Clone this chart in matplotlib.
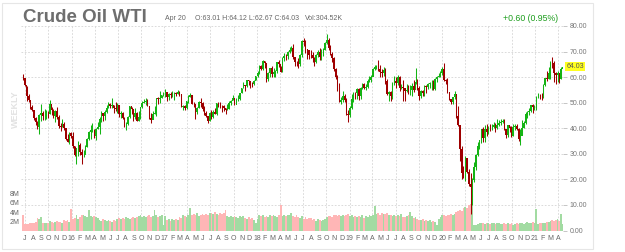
import numpy as np
import pandas as pd
import matplotlib
matplotlib.use('Agg')
import matplotlib.pyplot as plt
import matplotlib.dates as mdates
import matplotlib.transforms as mtransforms
from matplotlib.patches import Rectangle

plt.rcParams['font.family'] = ['Liberation Sans', 'DejaVu Sans']

#-------------------------------------------------------------------
# weekly WTI candles, first week starts Monday 2015-06-22
first_week = '2015-06-22'
first_open = 60.40
last_open = 63.01

closes = [
    59.63, 56.93, 52.74, 50.89, 48.14, 47.12, 43.87, 42.50, 40.45, 45.22, 46.05, 44.63, 44.68, 45.70,
    45.54, 49.63, 47.26, 44.60, 46.59, 44.29, 40.74, 40.39, 41.71, 39.97, 35.62, 34.73, 38.10, 37.04,
    # 2016
    33.16, 29.42, 32.19, 33.62, 30.89, 29.44, 29.64, 32.78, 35.92, 38.50, 39.44, 39.46, 36.79,
    39.72, 40.36, 43.73, 45.92, 44.66, 46.21, 47.75, 49.33, 48.62, 49.07, 47.98, 47.64, 48.99,
    45.41, 45.95, 44.19, 41.60, 41.80, 44.49, 48.52, 47.64, 44.44, 45.88, 43.03, 44.48, 48.24,
    49.81, 50.35, 50.85, 48.70, 44.07, 43.41, 45.69, 46.06, 51.68, 51.50, 51.90, 53.02, 53.72,
    # 2017
    53.99, 52.37, 53.22, 53.17, 53.83, 53.86, 53.40, 53.99, 53.33, 48.49, 48.78, 47.97, 50.60,
    52.24, 53.18, 49.62, 49.33, 46.22, 47.84, 50.33, 49.80, 47.66, 45.83, 44.74, 43.01, 46.04,
    44.23, 46.54, 45.77, 49.71, 49.58, 48.82, 48.51, 47.87, 47.29, 47.48, 49.89, 50.66, 51.67,
    49.29, 51.45, 51.47, 53.90, 55.64, 56.74, 56.55, 58.95, 58.36, 57.36, 57.30, 58.47, 60.42,
    # 2018
    61.44, 64.30, 63.37, 66.14, 65.45, 59.20, 61.68, 63.55, 61.25, 62.04, 62.34, 65.88, 64.94,
    62.06, 67.39, 68.38, 68.10, 69.72, 70.70, 71.28, 67.88, 65.81, 65.74, 65.06, 68.58, 74.15,
    73.80, 71.01, 70.46, 68.69, 68.49, 67.63, 65.91, 68.72, 69.80, 67.75, 68.99, 70.78, 73.25,
    74.34, 71.34, 69.12, 67.59, 63.14, 60.19, 56.46, 50.42, 50.93, 52.61, 51.20, 45.59, 45.33, 47.96,
    # 2019
    51.59, 53.80, 53.69, 55.26, 52.72, 55.59, 57.26, 55.80, 56.07, 58.52, 59.04, 60.14, 63.08,
    63.89, 64.00, 63.30, 61.94, 61.66, 62.76, 58.63, 53.50, 54.00, 52.51, 57.43, 58.47, 57.51,
    60.21, 55.63, 56.20, 55.66, 54.50, 54.87, 54.17, 55.10, 56.52, 54.85, 58.09, 55.91, 52.81,
    54.70, 53.78, 56.66, 56.20, 57.24, 57.72, 57.77, 55.17, 59.20, 60.07, 60.44, 61.72, 63.05,
    # 2020
    59.04, 58.54, 54.19, 51.56, 50.32, 52.05, 53.38, 44.76, 41.28, 31.73, 22.43, 21.51, 28.34,
    22.76, 18.27, 16.94, 19.78, 24.74, 29.43, 33.25, 35.49, 39.55, 36.26, 39.75, 38.49, 40.65,
    40.55, 40.59, 41.29, 40.27, 41.22, 42.01, 42.34, 42.97, 39.77, 37.33, 41.11, 40.25, 37.05,
    40.60, 40.88, 39.85, 35.79, 37.14, 40.13, 42.15, 45.53, 46.26, 46.57, 49.10, 48.23, 48.52,
    # 2021
    52.24, 52.36, 52.27, 52.20, 56.85, 59.47, 59.24, 61.50, 66.09, 65.61, 61.42, 60.97, 61.45,
    59.32, 63.13, 64.03,
]

highs = [
    61.33, 59.73, 56.64, 53.59, 51.18, 49.00, 46.80, 44.39, 43.00, 45.50, 49.32, 46.60, 47.70, 47.00,
    46.74, 50.92, 48.50, 47.39, 47.33, 48.36, 45.15, 42.05, 43.46, 42.60, 40.10, 37.93, 38.37, 38.39,
    38.39, 33.20, 32.35, 34.82, 34.40, 31.75, 31.53, 33.30, 36.16, 38.77, 41.20, 41.90, 39.65,
    39.98, 42.41, 44.49, 46.78, 46.00, 47.16, 48.95, 50.21, 50.07, 51.67, 49.00, 50.45, 49.99,
    49.18, 46.93, 46.40, 44.36, 42.46, 44.98, 48.75, 48.47, 47.72, 47.79, 46.40, 46.58, 48.30,
    50.74, 51.60, 51.93, 51.31, 48.85, 45.95, 46.60, 48.80, 51.82, 52.42, 54.51, 53.20, 54.37,
    55.24, 54.30, 53.65, 54.10, 54.48, 54.11, 54.05, 54.94, 54.57, 53.47, 49.15, 49.04, 50.85,
    52.94, 53.76, 53.10, 50.20, 49.33, 48.26, 50.60, 52.00, 50.26, 48.75, 46.90, 44.92, 46.32,
    47.32, 46.98, 47.85, 49.81, 50.43, 50.22, 49.10, 48.92, 48.06, 49.42, 50.48, 50.86, 52.86,
    51.60, 51.65, 52.86, 53.97, 55.72, 57.92, 57.10, 59.05, 58.99, 58.53, 58.09, 58.68, 60.51,
    62.21, 64.77, 64.89, 66.66, 66.36, 65.69, 61.88, 63.73, 64.24, 63.46, 62.63, 66.04, 66.66,
    64.46, 67.74, 69.56, 69.06, 70.10, 71.89, 72.30, 72.83, 67.80, 66.44, 67.45, 69.17, 74.46,
    75.27, 74.70, 71.18, 70.13, 70.43, 69.88, 67.68, 69.16, 70.65, 71.40, 71.19, 71.52, 73.76,
    76.90, 75.36, 72.59, 69.77, 68.04, 63.65, 60.79, 57.76, 52.20, 54.55, 53.27, 51.99, 47.28, 48.67,
    53.31, 54.04, 54.25, 55.75, 55.75, 55.95, 57.81, 57.88, 57.49, 59.23, 60.39, 60.73, 63.42,
    64.79, 64.63, 66.60, 64.77, 63.14, 63.93, 63.48, 59.33, 54.46, 54.54, 58.17, 60.28, 60.00,
    60.94, 60.60, 57.34, 58.82, 55.91, 57.47, 56.81, 56.90, 57.57, 58.76, 63.38, 59.34, 56.61,
    54.97, 54.80, 56.92, 56.87, 57.87, 58.06, 58.69, 58.89, 59.85, 60.28, 61.44, 62.34, 64.09,
    65.65, 59.38, 59.73, 54.18, 51.44, 52.17, 54.45, 53.51, 48.66, 36.43, 33.16, 25.24, 29.13,
    28.36, 23.87, 22.50, 20.48, 26.74, 29.78, 34.66, 35.49, 39.60, 40.44, 41.30, 41.63, 40.96,
    41.74, 41.54, 42.51, 41.94, 43.52, 43.19, 43.44, 43.78, 43.54, 39.71, 41.42, 41.00, 40.89,
    41.56, 41.49, 41.76, 40.22, 39.73, 43.06, 42.76, 46.26, 46.68, 47.74, 49.28, 49.43, 48.96,
    52.75, 53.93, 53.55, 53.60, 57.29, 59.70, 62.26, 63.81, 66.40, 67.98, 66.40, 61.81, 62.25,
    61.66, 63.84, 64.12,
]

lows = [
    58.81, 56.50, 50.58, 50.38, 47.72, 46.68, 43.33, 41.35, 39.86, 37.75, 42.70, 43.35, 43.40, 43.70,
    44.10, 45.50, 45.12, 44.11, 42.58, 43.75, 40.16, 38.99, 40.35, 39.38, 35.35, 34.53, 33.98, 36.10,
    32.10, 29.13, 26.19, 29.25, 29.55, 26.05, 28.74, 30.56, 32.60, 35.51, 35.69, 38.60, 36.29,
    35.24, 39.62, 37.61, 42.42, 43.03, 43.41, 46.13, 47.75, 47.75, 48.09, 45.83, 46.69, 46.10,
    44.42, 44.07, 43.75, 40.57, 39.19, 41.13, 44.01, 45.74, 43.02, 43.69, 42.81, 42.79, 43.45,
    47.86, 49.77, 49.06, 48.60, 43.57, 42.20, 43.60, 45.72, 44.82, 49.58, 49.94, 51.78, 52.74,
    52.11, 50.71, 50.91, 51.69, 52.37, 51.22, 52.48, 53.33, 52.60, 48.29, 47.09, 47.01, 47.41,
    50.05, 52.13, 49.43, 48.18, 43.76, 45.66, 47.74, 48.18, 46.90, 45.20, 44.22, 42.05, 42.82,
    43.79, 43.92, 45.40, 45.37, 48.25, 47.79, 46.46, 46.68, 45.58, 46.98, 47.49, 49.20, 50.88,
    49.10, 49.33, 50.71, 51.20, 53.81, 55.75, 54.48, 56.15, 56.75, 55.82, 56.13, 56.84, 58.93,
    60.10, 61.03, 62.69, 62.73, 63.67, 58.07, 58.45, 60.14, 60.16, 60.11, 60.23, 61.71, 64.06,
    61.85, 61.81, 66.14, 66.83, 67.03, 69.43, 70.26, 67.08, 64.22, 64.26, 63.59, 64.36, 67.97,
    72.33, 69.53, 67.03, 67.21, 67.48, 66.04, 64.43, 65.71, 67.80, 66.80, 66.59, 68.30, 70.64,
    73.06, 70.47, 68.47, 65.74, 62.57, 59.26, 54.75, 50.15, 49.41, 50.08, 50.43, 45.12, 42.36, 44.35,
    47.56, 50.42, 51.33, 51.33, 51.23, 51.41, 55.27, 55.37, 55.09, 55.79, 58.14, 58.02, 60.40,
    62.85, 63.18, 62.46, 60.04, 60.04, 60.51, 57.30, 52.91, 50.60, 50.72, 51.33, 57.01, 55.84,
    57.02, 54.68, 55.20, 50.52, 50.52, 54.17, 53.49, 53.09, 52.76, 54.16, 57.50, 55.02, 50.99,
    51.88, 52.47, 52.80, 53.71, 55.44, 55.91, 55.06, 54.91, 54.94, 58.08, 59.95, 60.13, 60.65,
    58.66, 57.36, 53.85, 51.06, 49.31, 49.44, 51.59, 43.82, 41.05, 27.34, 20.06, 20.52, 19.27,
    22.54, 17.31, 6.50, 10.07, 19.00, 23.75, 29.11, 31.72, 34.36, 34.68, 34.66, 37.08, 37.78,
    39.06, 39.19, 40.28, 38.72, 39.82, 40.96, 41.26, 42.04, 39.30, 36.13, 36.70, 38.63, 36.63,
    37.04, 39.13, 39.27, 34.92, 33.64, 37.17, 40.23, 41.75, 43.92, 45.18, 46.51, 46.16, 46.98,
    47.18, 51.83, 51.63, 51.10, 51.94, 56.53, 58.60, 59.24, 59.32, 63.58, 58.26, 57.32, 58.10,
    57.63, 59.11, 62.67,
]

# weekly volume, millions of contracts
volumes = [
    3.3, 1.4, 1.4, 1.5, 1.6, 1.7, 1.8, 2.0, 2.7, 2.5, 3.0, 1.7, 1.6, 1.8, 1.7, 2.2, 1.9, 1.7, 2.0, 2.1,
    1.9, 2.0, 1.8, 2.4, 2.2, 2.4, 2.0, 4.6, 2.5, 2.7, 3.3, 2.6, 2.9, 3.3, 3.5, 3.2, 3.0, 4.4, 3.1, 3.0,
    3.2, 2.9, 2.7, 2.4, 2.2, 2.5, 2.3, 2.1, 2.4, 2.2, 2.0, 2.3, 2.2, 2.5, 2.7, 2.6, 2.8, 2.5, 2.9, 2.7,
    2.6, 2.8, 3.0, 2.7, 2.9, 3.1, 3.3, 3.0, 3.2, 2.9, 3.1, 3.4, 3.0, 3.2, 4.4, 3.3, 3.0, 3.1, 3.4, 1.3,
    3.2, 2.4, 2.6, 2.2, 2.5, 2.3, 2.6, 2.4, 3.0, 2.8, 3.3, 3.1, 2.9, 3.4, 5.0, 3.3, 3.6, 3.4, 3.8, 3.2,
    3.5, 3.7, 3.3, 3.6, 3.4, 3.8, 3.9, 3.6, 4.1, 3.7, 3.5, 3.9, 3.6, 3.8, 4.4, 3.1, 3.0, 3.2, 2.9, 3.1,
    3.0, 2.8, 3.2, 2.9, 3.1, 2.7, 2.6, 2.9, 2.5, 2.8, 2.4, 1.6, 2.6, 3.3, 3.1, 3.4, 2.9, 3.2, 3.0, 3.3,
    3.1, 3.4, 3.2, 3.0, 3.3, 5.5, 3.2, 3.4, 3.1, 3.3, 3.5, 3.8, 3.2, 3.0, 3.4, 2.9, 2.7, 3.1, 2.6, 2.9,
    2.5, 2.8, 2.7, 2.4, 2.6, 2.2, 2.5, 2.3, 2.1, 2.4, 2.6, 2.9, 3.1, 3.2, 3.0, 3.4, 3.3, 3.1, 3.5, 3.2,
    3.4, 3.1, 3.3, 3.6, 3.2, 3.4, 3.0, 3.2, 2.9, 3.1, 3.0, 3.3, 2.8, 3.2, 3.0, 3.4, 3.1, 3.3, 5.3, 3.6,
    3.8, 3.5, 3.9, 3.7, 3.6, 3.8, 3.4, 3.5, 3.2, 3.3, 3.1, 3.4, 3.2, 3.6, 3.0, 2.9, 3.1, 3.3, 4.0, 3.1,
    2.8, 3.0, 2.6, 2.4, 2.3, 2.5, 2.2, 2.4, 2.1, 2.3, 2.0, 2.2, 1.9, 1.2, 2.6, 3.0, 3.3, 3.4, 3.2, 3.5,
    3.3, 3.6, 3.4, 3.7, 4.0, 4.2, 4.5, 4.3, 4.8, 5.2, 5.0, 5.6, 5.8, 6.4, 1.2, 1.3, 1.5, 1.7, 1.6, 1.8,
    1.5, 1.7, 1.6, 1.4, 1.7, 1.6, 1.5, 1.8, 1.6, 1.5, 1.4, 1.6, 1.5, 1.7, 1.4, 1.6, 1.3, 1.5, 1.7, 1.4,
    1.6, 1.8, 1.5, 1.7, 1.9, 1.6, 1.8, 2.0, 1.7, 4.6, 1.5, 1.6, 1.7, 1.8, 1.6, 1.9, 2.0, 2.2, 2.3, 2.1,
    2.4, 2.6, 2.2, 3.7, 1.4,
]

price_ticks = [0, 10, 20, 30, 40, 50, 60, 70, 80]
vol_ticks = [2, 4, 6, 8]
vol_labels = ['2M', '4M', '6M', '8M']
month_letters = 'JFMAMJJASOND'

#-------------------------------------------------------------------
W, H = 625, 252
fig = plt.figure(figsize=(W / 100, H / 100), dpi=100)

def fx(px):
    return px / W

def fy(py):
    return 1 - py / H

# plot area in pixels
L, R, T, B = 21, 563, 25, 231
ax_p = fig.add_axes([fx(L), fy(B), (R - L) / W, (B - T) / H])
ax_v = ax_p.twinx()
ax_p.set_zorder(ax_v.get_zorder() + 1)
ax_p.patch.set_visible(False)

n = len(closes)
weeks = pd.date_range(first_week, periods=n, freq='7D') + pd.Timedelta(days=2)
x = mdates.date2num(weeks)
c = np.array(closes)
o = np.array([first_open] + closes[:-1])
o[-1] = last_open
up = c >= o

# time scale: Jul 1 2015 sits at pixel 25, about 0.2536 px per day
d0 = mdates.date2num(pd.Timestamp('2015-07-01'))
ppd = 0.2536
xlo, xhi = d0 + (L - 25) / ppd, d0 + (R - 25) / ppd
ax_p.set_xlim(xlo, xhi)

# price: 0 at pixel 230.5, 80 at pixel 26
ppu = (230.5 - 26) / 80
ax_p.set_ylim(-(B - 230.5) / ppu, 80 + (26 - T) / ppu)
# volume: 4.7 px per million
ax_v.set_ylim(0, (B - T) / 4.7)

# grid (drawn in the bottom axes)
grid_kw = dict(color='#d4d4d4', lw=0.6, linestyles=(0, (2, 2)), zorder=0)
ax_v.hlines(price_ticks[1:], xlo, xhi, transform=ax_p.transData, **grid_kw)
quarters = mdates.date2num(pd.date_range('2015-07-01', '2021-04-01', freq='QS'))
ax_v.vlines(quarters, 0, 1, transform=ax_v.get_xaxis_transform(), **grid_kw)

# volume bars
vcol = np.where(up, '#a2dba2', '#ffb6b6')
ax_v.bar(x, volumes, width=7, color=vcol, linewidth=0, zorder=1)

# candles
ccol = np.where(up, '#14b414', '#9e0000')
ax_p.vlines(x, lows, highs, colors=ccol, lw=0.75, zorder=2)
ax_p.bar(x, c - o, bottom=o, width=5.6, color=ccol, linewidth=0, zorder=3)

# axes styling
for ax in (ax_p, ax_v):
    for s in ax.spines.values():
        s.set_visible(False)

ax_p.yaxis.tick_right()
ax_p.set_yticks(price_ticks)
ax_p.set_yticklabels(['%.2f' % v for v in price_ticks])
ax_p.tick_params(axis='y', length=3, width=0.6, color='#bbbbbb', labelcolor='#777777',
                 labelsize=5, pad=2)

ax_v.yaxis.tick_left()
ax_v.set_yticks(vol_ticks)
ax_v.set_yticklabels(vol_labels)
ax_v.tick_params(axis='y', length=0, labelcolor='#666666', labelsize=5, pad=1)

months = pd.date_range('2015-07-01', '2021-04-01', freq='MS')
mlabels = ['%02d' % (m.year % 100) if m.month == 1 else month_letters[m.month - 1] for m in months]
ax_p.set_xticks(mdates.date2num(months))
ax_p.set_xticklabels(mlabels)
ax_p.tick_params(axis='x', length=0, labelcolor='#666666', labelsize=5, pad=3)
ax_v.tick_params(axis='x', length=0, labelbottom=False)

# last price tag
trans = mtransforms.blended_transform_factory(ax_p.transAxes, ax_p.transData)
ax_p.text(1.006, closes[-1], '%.2f' % closes[-1], transform=trans, fontsize=5, color='#555555',
          va='center', ha='left',
          bbox=dict(facecolor='#ffff20', edgecolor='none', boxstyle='square,pad=0.15'))

# header texts
fig.text(fx(23), fy(21.5), 'Crude Oil WTI', fontsize=13.5, fontweight='bold', color='#6e6e6e',
         va='baseline', ha='left')
fig.text(fx(165), fy(20), 'Apr 20', fontsize=5, color='#666666', va='baseline')
fig.text(fx(195), fy(20), 'O:63.01 H:64.12 L:62.67 C:64.03', fontsize=5, color='#666666',
         va='baseline')
fig.text(fx(305), fy(20), 'Vol:304.52K', fontsize=5, color='#666666', va='baseline')
fig.text(fx(558), fy(21), '+0.60 (0.95%)', fontsize=6.3, color='#1e9e1e', va='baseline',
         ha='right')

fig.text(fx(15), fy(109), 'WEEKLY', fontsize=6.5, fontweight='bold', color='#e2e2e2',
         rotation=90, ha='center', va='center')

fig.add_artist(Rectangle((fx(2), fy(249)), (593 - 2) / W, (249 - 3) / H, transform=fig.transFigure,
                         fill=False, edgecolor='#e6e6e6', lw=0.8))

fig.savefig('out.png', dpi=100, facecolor='white')
